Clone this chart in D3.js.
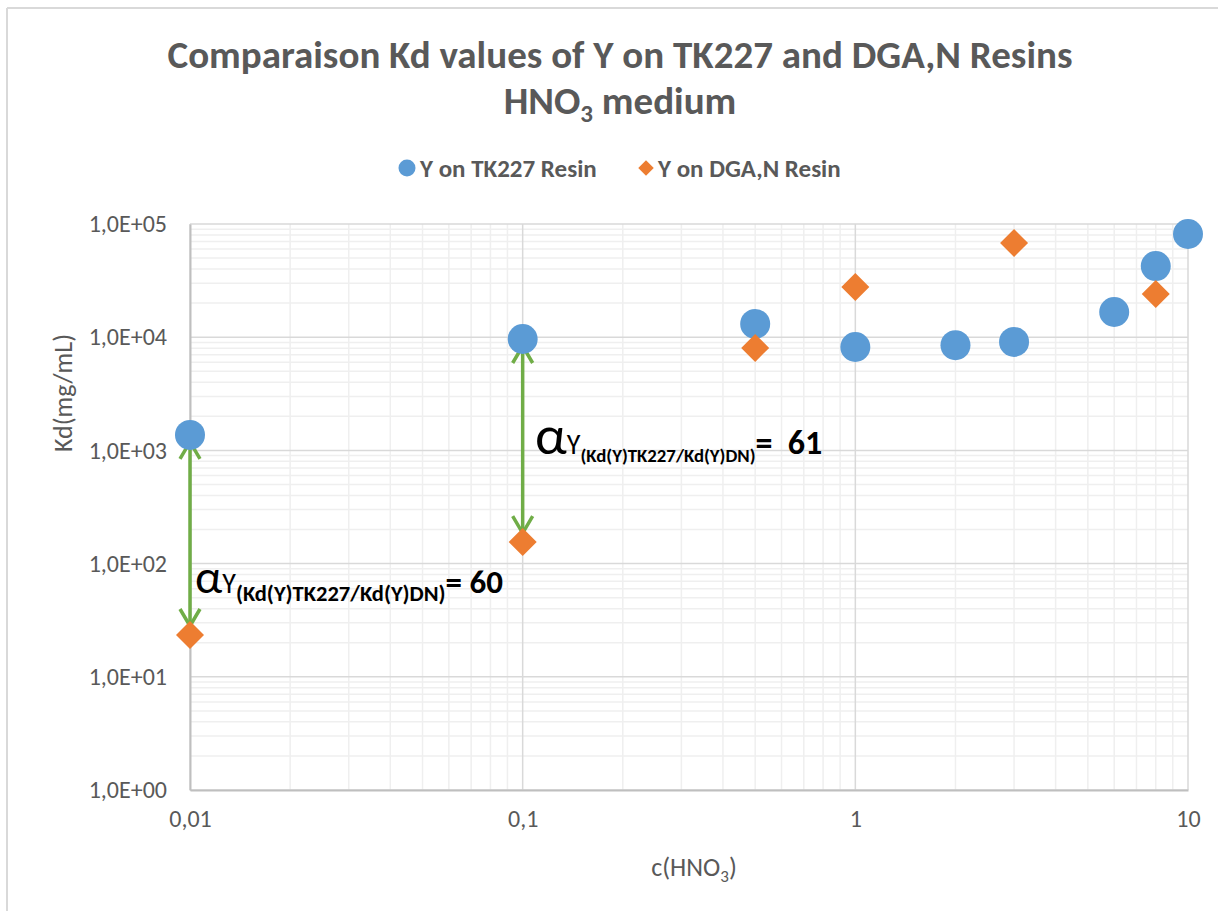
<!DOCTYPE html>
<html>
<head>
<meta charset="utf-8">
<script src="https://cdn.jsdelivr.net/npm/d3@7"></script>
<style>
  body { margin: 0; background: #fff; }
  svg { display: block; }
</style>
</head>
<body>
<svg width="1218" height="911"></svg>
<script>
var width = 1218;
var height = 911;

// data
var tkConc = [0.01, 0.1, 0.5, 1, 2, 3, 6, 8, 10];
var tkKd = [1370, 9640, 13100, 8190, 8500, 9080, 16700, 42500, 81600];
var dnConc = [0.01, 0.1, 0.5, 1, 3, 8];
var dnKd = [23.4, 155, 8040, 27700, 68000, 24100];
var yTicks = [1, 10, 100, 1000, 10000, 100000];
var yTickLabels = ['1,0E+00', '1,0E+01', '1,0E+02', '1,0E+03', '1,0E+04', '1,0E+05'];
var xTicks = [0.01, 0.1, 1, 10];
var xTickLabels = ['0,01', '0,1', '1', '10'];
var seriesNames = ['Y on TK227 Resin', 'Y on DGA,N Resin'];
var alphaValues = ['60', '61'];

var blue = '#5b9bd5';
var orange = '#ed7d31';
var green = '#70ad47';
var textGray = '#595959';
var font = 'Carlito, "Open Sans", sans-serif';

var plotLeft = 190, plotRight = 1188, plotTop = 224, plotBottom = 790;

var x = d3.scaleLog().domain([0.01, 10]).range([plotLeft, plotRight]);
var y = d3.scaleLog().domain([1, 100000]).range([plotBottom, plotTop]);

var svg = d3.select('svg');

// outer frame (only top and left edges visible)
svg.append('line').attr('x1', 7).attr('x2', width).attr('y1', 8).attr('y2', 8)
  .attr('stroke', '#d9d9d9').attr('stroke-width', 2);
svg.append('line').attr('x1', 7).attr('x2', 7).attr('y1', 8).attr('y2', height)
  .attr('stroke', '#d9d9d9').attr('stroke-width', 2);

// minor grid
var minorX = [], minorY = [];
[0.01, 0.1, 1].forEach(function(d) {
  for (var k = 2; k <= 9; k++) minorX.push(d * k);
});
[1, 10, 100, 1000, 10000].forEach(function(d) {
  for (var k = 2; k <= 9; k++) minorY.push(d * k);
});

var grid = svg.append('g');
grid.selectAll('.mx').data(minorX).enter().append('line')
  .attr('x1', function(d) { return x(d); }).attr('x2', function(d) { return x(d); })
  .attr('y1', plotTop).attr('y2', plotBottom)
  .attr('stroke', '#efefef').attr('stroke-width', 1.5);
grid.selectAll('.my').data(minorY).enter().append('line')
  .attr('x1', plotLeft).attr('x2', plotRight)
  .attr('y1', function(d) { return y(d); }).attr('y2', function(d) { return y(d); })
  .attr('stroke', '#efefef').attr('stroke-width', 1.5);
grid.selectAll('.Mx').data(xTicks).enter().append('line')
  .attr('x1', function(d) { return x(d); }).attr('x2', function(d) { return x(d); })
  .attr('y1', plotTop).attr('y2', plotBottom)
  .attr('stroke', '#d9d9d9').attr('stroke-width', 1.5);
grid.selectAll('.My').data(yTicks).enter().append('line')
  .attr('x1', plotLeft).attr('x2', plotRight)
  .attr('y1', function(d) { return y(d); }).attr('y2', function(d) { return y(d); })
  .attr('stroke', '#d9d9d9').attr('stroke-width', 1.5);

// axes
var axisLeft = d3.axisLeft(y).tickValues(yTicks).tickSize(0).tickPadding(23)
  .tickFormat(function(d, i) { return yTickLabels[i]; });
var gy = svg.append('g').attr('transform', 'translate(' + plotLeft + ',0)').call(axisLeft);
var axisBottom = d3.axisBottom(x).tickValues(xTicks).tickSize(0).tickPadding(20)
  .tickFormat(function(d, i) { return xTickLabels[i]; });
var gx = svg.append('g').attr('transform', 'translate(0,' + plotBottom + ')').call(axisBottom);
[gx, gy].forEach(function(g) {
  g.select('.domain').attr('stroke', '#bfbfbf').attr('stroke-width', 2);
  g.selectAll('text').attr('font-family', font).attr('font-size', '24px').attr('fill', textGray);
});

// arrows between the two resins
var arrowPairs = [0, 1].map(function(i) {
  return { x: tkConc[i], top: y(tkKd[i]) + 7, bottom: y(dnKd[i]) - 9 };
});
var arrows = svg.append('g').attr('stroke', green).attr('stroke-width', 3.5).attr('fill', 'none');
arrowPairs.forEach(function(a) {
  var cx = x(a.x);
  arrows.append('line').attr('x1', cx).attr('x2', cx).attr('y1', a.top).attr('y2', a.bottom);
  arrows.append('path').attr('d', 'M' + (cx - 10) + ',' + (a.top + 17) + 'L' + cx + ',' + a.top + 'L' + (cx + 10) + ',' + (a.top + 17));
  arrows.append('path').attr('d', 'M' + (cx - 10) + ',' + (a.bottom - 17) + 'L' + cx + ',' + a.bottom + 'L' + (cx + 10) + ',' + (a.bottom - 17));
});

// points
svg.append('g').selectAll('circle').data(tkConc).enter().append('circle')
  .attr('cx', function(d) { return x(d); })
  .attr('cy', function(d, i) { return y(tkKd[i]); })
  .attr('r', 15).attr('fill', blue);

var diamond = d3.symbol().type(d3.symbolSquare).size(392);
svg.append('g').selectAll('path').data(dnConc).enter().append('path')
  .attr('d', diamond)
  .attr('transform', function(d, i) { return 'translate(' + x(d) + ',' + y(dnKd[i]) + ') rotate(45)'; })
  .attr('fill', orange);

// alpha annotations
var notes = [
  { x: 195, y: 593, big: 48, y1: 28, sub: 22.5, eq: 33, eqText: '= ' + alphaValues[0] },
  { x: 535, y: 454, big: 56, y1: 28, sub: 18.8, eq: 34, eqText: '=  ' + alphaValues[1] }
];
notes.forEach(function(n) {
  var t = svg.append('text').attr('x', n.x).attr('y', n.y).attr('font-family', font).attr('fill', '#000');
  t.append('tspan').attr('font-size', n.big + 'px').text('α');
  t.append('tspan').attr('font-size', n.y1 + 'px').text('Y');
  t.append('tspan').attr('font-size', n.sub + 'px').attr('font-weight', 'bold').attr('dy', 8).text('(Kd(Y)TK227/Kd(Y)DN)');
  t.append('tspan').attr('font-size', n.eq + 'px').attr('font-weight', 'bold').attr('dy', -8).attr('xml:space', 'preserve').text(n.eqText);
});

// title
var title = svg.append('text').attr('text-anchor', 'middle').attr('font-family', font)
  .attr('font-weight', 'bold').attr('font-size', '39px').attr('fill', textGray);
title.append('tspan').attr('x', 620).attr('y', 68).text('Comparaison Kd values of Y on TK227 and DGA,N Resins');
var t2 = title.append('tspan').attr('x', 620).attr('y', 114);
t2.append('tspan').text('HNO');
t2.append('tspan').attr('font-size', '25px').attr('dy', 8).text('3');
t2.append('tspan').attr('dy', -8).text(' medium');

// legend
var legend = svg.append('g').attr('font-family', font).attr('font-weight', 'bold')
  .attr('font-size', '25px').attr('fill', textGray);
legend.append('circle').attr('cx', 407).attr('cy', 168).attr('r', 8.5).attr('fill', blue);
legend.append('text').attr('x', 420).attr('y', 177).text(seriesNames[0]);
legend.append('path').attr('d', d3.symbol().type(d3.symbolSquare).size(120))
  .attr('transform', 'translate(646,168) rotate(45)').attr('fill', orange);
legend.append('text').attr('x', 658).attr('y', 177).text(seriesNames[1]);

// axis titles
var xt = svg.append('text').attr('x', 694).attr('y', 876).attr('text-anchor', 'middle')
  .attr('font-family', font).attr('font-size', '26px').attr('fill', textGray);
xt.append('tspan').text('c(HNO');
xt.append('tspan').attr('font-size', '17px').attr('dy', 6).text('3');
xt.append('tspan').attr('dy', -6).text(')');

svg.append('text').attr('transform', 'translate(72,393) rotate(-90)').attr('text-anchor', 'middle')
  .attr('font-family', font).attr('font-size', '26px').attr('fill', textGray)
  .text('Kd(mg/mL)');
</script>
</body>
</html>
